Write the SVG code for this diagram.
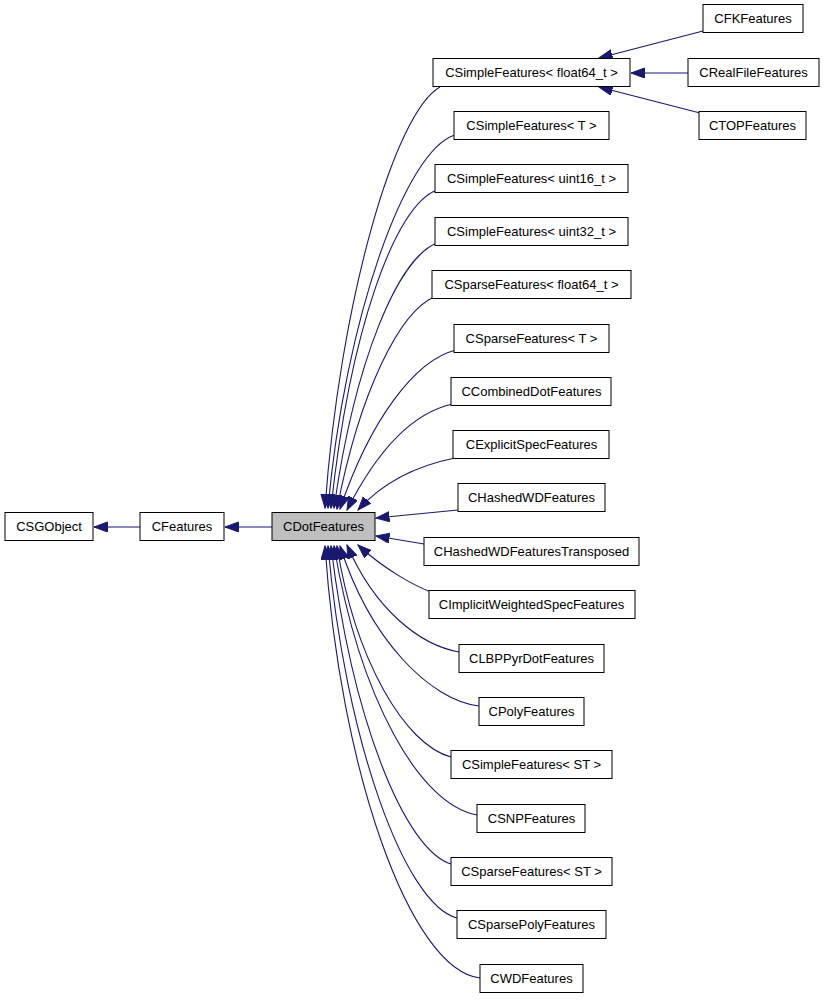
<svg xmlns="http://www.w3.org/2000/svg" width="824" height="1000" viewBox="0 0 824 1000">
<style>
.n rect{fill:#fff;stroke:#000;stroke-width:1}
.n text{font-family:"Liberation Sans",Arial,sans-serif;font-size:13px;text-anchor:middle;fill:#000}
.e path{fill:none;stroke:#191970;stroke-width:1.1;marker-end:url(#ah)}
</style>
<defs>
<marker id="ah" markerUnits="userSpaceOnUse" markerWidth="15" markerHeight="11" refX="13.5" refY="5" orient="auto">
<path d="M0,0 L13.5,5 L0,10 z" fill="#191970" stroke="#191970" stroke-width="1"/>
</marker>
</defs>
<rect width="824" height="1000" fill="#fff"/>
<g class="e" id="edges">
<path d="M140,527 L94,527"/>
<path d="M272,527 L225,527"/>
<path d="M440,87 C395,112 340,300 325,508"/>
<path d="M455,135 C405,150 345,320 328,508"/>
<path d="M437,190 C395,205 350,330 331,508"/>
<path d="M437,243 C398,258 355,360 334,508"/>
<path d="M434,297 C400,312 360,390 337,509"/>
<path d="M456,350 C415,360 370,420 340,509"/>
<path d="M453,404 C415,412 380,445 347,510"/>
<path d="M455,458 C420,465 385,480 358,510"/>
<path d="M458,510 L376,518"/>
<path d="M424,544 L376,536"/>
<path d="M431,592 C415,586 385,570 358,545"/>
<path d="M459,652 C420,645 375,610 347,545"/>
<path d="M479,706 C430,700 370,640 340,546"/>
<path d="M451,757 C405,745 355,660 337,546"/>
<path d="M477,815 C420,805 360,700 334,546"/>
<path d="M451,864 C405,850 352,720 331,546"/>
<path d="M457,918 C405,905 345,740 328,546"/>
<path d="M480,978 C410,970 340,770 325,546"/>
<path d="M703,31 L599,58"/>
<path d="M688,73 L631,73"/>
<path d="M700,113 L599,87"/>
</g>
<g class="n" id="CSGObject"><rect x="5" y="512.5" width="88" height="28"/><text x="49" y="531">CSGObject</text></g>
<g class="n" id="CFeatures"><rect x="140" y="512.5" width="84" height="28"/><text x="182" y="531">CFeatures</text></g>
<g class="n" id="CDotFeatures"><rect x="272" y="512.5" width="103" height="28" style="fill:#bfbfbf"/><text x="323.5" y="531">CDotFeatures</text></g>
<g class="n" id="n1"><rect x="433" y="58.5" width="197" height="28"/><text x="531.5" y="77">CSimpleFeatures&lt; float64_t &gt;</text></g>
<g class="n" id="n2"><rect x="454" y="111.5" width="155" height="28"/><text x="531.5" y="130">CSimpleFeatures&lt; T &gt;</text></g>
<g class="n" id="n3"><rect x="435" y="164.5" width="193" height="28"/><text x="531.5" y="183">CSimpleFeatures&lt; uint16_t &gt;</text></g>
<g class="n" id="n4"><rect x="435" y="217.5" width="193" height="28"/><text x="531.5" y="236">CSimpleFeatures&lt; uint32_t &gt;</text></g>
<g class="n" id="n5"><rect x="432" y="270.5" width="199" height="28"/><text x="531.5" y="289">CSparseFeatures&lt; float64_t &gt;</text></g>
<g class="n" id="n6"><rect x="454" y="324.5" width="155" height="28"/><text x="531.5" y="343">CSparseFeatures&lt; T &gt;</text></g>
<g class="n" id="n7"><rect x="451" y="377.5" width="160" height="28"/><text x="531.5" y="396">CCombinedDotFeatures</text></g>
<g class="n" id="n8"><rect x="453" y="430.5" width="156" height="28"/><text x="531.5" y="449">CExplicitSpecFeatures</text></g>
<g class="n" id="n9"><rect x="458" y="483.5" width="147" height="28"/><text x="531.5" y="502">CHashedWDFeatures</text></g>
<g class="n" id="n10"><rect x="424" y="537.5" width="215" height="28"/><text x="531.5" y="556">CHashedWDFeaturesTransposed</text></g>
<g class="n" id="n11"><rect x="429" y="590.5" width="206" height="28"/><text x="531.5" y="609">CImplicitWeightedSpecFeatures</text></g>
<g class="n" id="n12"><rect x="459" y="644.5" width="145" height="28"/><text x="531.5" y="663">CLBPPyrDotFeatures</text></g>
<g class="n" id="n13"><rect x="479" y="697.5" width="105" height="28"/><text x="531.5" y="716">CPolyFeatures</text></g>
<g class="n" id="n14"><rect x="451" y="750.5" width="161" height="28"/><text x="531.5" y="769">CSimpleFeatures&lt; ST &gt;</text></g>
<g class="n" id="n15"><rect x="477" y="804.5" width="108" height="28"/><text x="531.5" y="823">CSNPFeatures</text></g>
<g class="n" id="n16"><rect x="451" y="857.5" width="161" height="28"/><text x="531.5" y="876">CSparseFeatures&lt; ST &gt;</text></g>
<g class="n" id="n17"><rect x="457" y="910.5" width="149" height="28"/><text x="531.5" y="929">CSparsePolyFeatures</text></g>
<g class="n" id="n18"><rect x="480" y="964.5" width="103" height="28"/><text x="531.5" y="983">CWDFeatures</text></g>
<g class="n" id="CFKFeatures"><rect x="703" y="4.5" width="100" height="28"/><text x="753" y="23">CFKFeatures</text></g>
<g class="n" id="CRealFileFeatures"><rect x="688" y="58.5" width="131" height="28"/><text x="753.5" y="77">CRealFileFeatures</text></g>
<g class="n" id="CTOPFeatures"><rect x="699" y="111.5" width="107" height="28"/><text x="752.5" y="130">CTOPFeatures</text></g>
</svg>
